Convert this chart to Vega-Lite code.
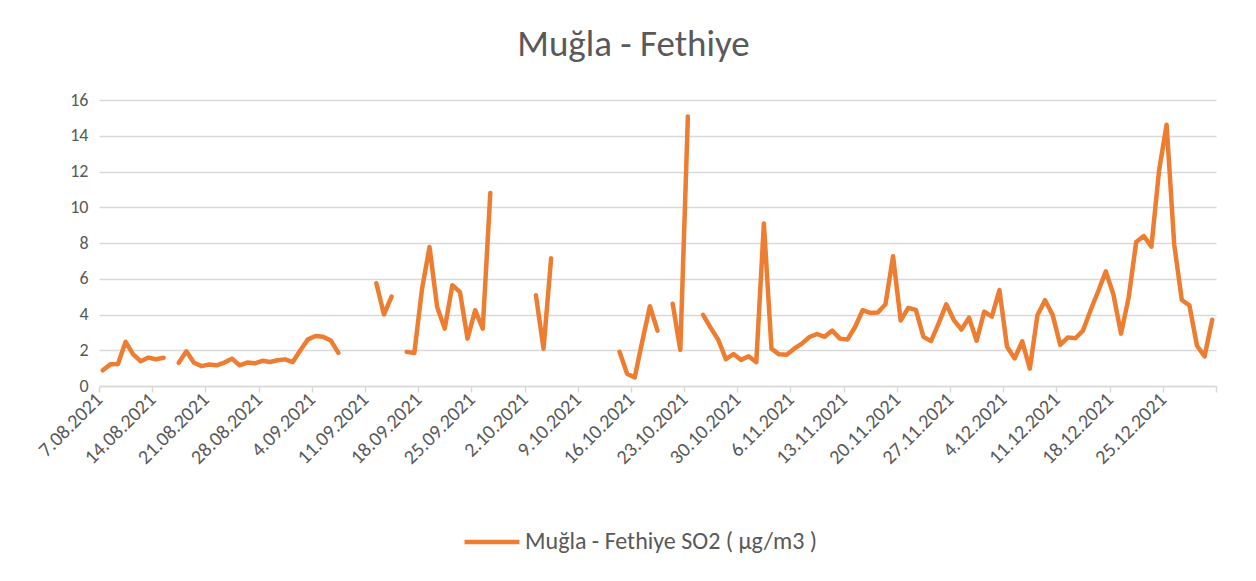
{
  "$schema": "https://vega.github.io/schema/vega-lite/v6.json",
  "width": 1117,
  "height": 286,
  "autosize": {"type": "none"},
  "padding": {"left": 99, "top": 100, "right": 40, "bottom": 195},
  "background": "#ffffff",
  "config": {
    "font": "Carlito, Lato, sans-serif",
    "view": {"stroke": null},
    "axis": {"labelColor": "#595959", "labelFont": "Carlito, Lato, sans-serif"}
  },
  "title": {
    "text": "Muğla - Fethiye",
    "fontSize": 37,
    "fontWeight": "normal",
    "color": "#595959",
    "font": "Carlito, Lato, sans-serif",
    "anchor": "middle",
    "frame": "group",
    "dx": -24,
    "offset": 27
  },
  "data": {
    "values": [
      {"d": "2021-08-07", "v": 0.88}, {"d": "2021-08-08", "v": 1.21}, {"d": "2021-08-09", "v": 1.23}, {"d": "2021-08-10", "v": 2.47},
      {"d": "2021-08-11", "v": 1.77}, {"d": "2021-08-12", "v": 1.38}, {"d": "2021-08-13", "v": 1.59}, {"d": "2021-08-14", "v": 1.5},
      {"d": "2021-08-15", "v": 1.58}, {"d": "2021-08-16", "v": null}, {"d": "2021-08-17", "v": 1.3}, {"d": "2021-08-18", "v": 1.94},
      {"d": "2021-08-19", "v": 1.3}, {"d": "2021-08-20", "v": 1.11}, {"d": "2021-08-21", "v": 1.2}, {"d": "2021-08-22", "v": 1.16},
      {"d": "2021-08-23", "v": 1.31}, {"d": "2021-08-24", "v": 1.53}, {"d": "2021-08-25", "v": 1.16}, {"d": "2021-08-26", "v": 1.31},
      {"d": "2021-08-27", "v": 1.27}, {"d": "2021-08-28", "v": 1.41}, {"d": "2021-08-29", "v": 1.34}, {"d": "2021-08-30", "v": 1.44},
      {"d": "2021-08-31", "v": 1.49}, {"d": "2021-09-01", "v": 1.34}, {"d": "2021-09-02", "v": 2.0}, {"d": "2021-09-03", "v": 2.61},
      {"d": "2021-09-04", "v": 2.8}, {"d": "2021-09-05", "v": 2.75}, {"d": "2021-09-06", "v": 2.55}, {"d": "2021-09-07", "v": 1.85},
      {"d": "2021-09-08", "v": null}, {"d": "2021-09-09", "v": null}, {"d": "2021-09-10", "v": null}, {"d": "2021-09-11", "v": null},
      {"d": "2021-09-12", "v": 5.75}, {"d": "2021-09-13", "v": 4.0}, {"d": "2021-09-14", "v": 5.0}, {"d": "2021-09-15", "v": null},
      {"d": "2021-09-16", "v": 1.91}, {"d": "2021-09-17", "v": 1.85}, {"d": "2021-09-18", "v": 5.4}, {"d": "2021-09-19", "v": 7.78},
      {"d": "2021-09-20", "v": 4.42}, {"d": "2021-09-21", "v": 3.21}, {"d": "2021-09-22", "v": 5.64}, {"d": "2021-09-23", "v": 5.26},
      {"d": "2021-09-24", "v": 2.65}, {"d": "2021-09-25", "v": 4.24}, {"d": "2021-09-26", "v": 3.21}, {"d": "2021-09-27", "v": 10.8},
      {"d": "2021-09-28", "v": null}, {"d": "2021-09-29", "v": null}, {"d": "2021-09-30", "v": null}, {"d": "2021-10-01", "v": null},
      {"d": "2021-10-02", "v": null}, {"d": "2021-10-03", "v": 5.08}, {"d": "2021-10-04", "v": 2.09}, {"d": "2021-10-05", "v": 7.14},
      {"d": "2021-10-06", "v": null}, {"d": "2021-10-07", "v": null}, {"d": "2021-10-08", "v": null}, {"d": "2021-10-09", "v": null},
      {"d": "2021-10-10", "v": null}, {"d": "2021-10-11", "v": null}, {"d": "2021-10-12", "v": null}, {"d": "2021-10-13", "v": null},
      {"d": "2021-10-14", "v": 1.91}, {"d": "2021-10-15", "v": 0.69}, {"d": "2021-10-16", "v": 0.48}, {"d": "2021-10-17", "v": 2.5},
      {"d": "2021-10-18", "v": 4.46}, {"d": "2021-10-19", "v": 3.1}, {"d": "2021-10-20", "v": null}, {"d": "2021-10-21", "v": 4.6},
      {"d": "2021-10-22", "v": 2.02}, {"d": "2021-10-23", "v": 15.08}, {"d": "2021-10-24", "v": null}, {"d": "2021-10-25", "v": 3.98},
      {"d": "2021-10-26", "v": 3.25}, {"d": "2021-10-27", "v": 2.58}, {"d": "2021-10-28", "v": 1.5}, {"d": "2021-10-29", "v": 1.79},
      {"d": "2021-10-30", "v": 1.46}, {"d": "2021-10-31", "v": 1.66}, {"d": "2021-11-01", "v": 1.33}, {"d": "2021-11-02", "v": 9.09},
      {"d": "2021-11-03", "v": 2.09}, {"d": "2021-11-04", "v": 1.77}, {"d": "2021-11-05", "v": 1.75}, {"d": "2021-11-06", "v": 2.09},
      {"d": "2021-11-07", "v": 2.37}, {"d": "2021-11-08", "v": 2.74}, {"d": "2021-11-09", "v": 2.91}, {"d": "2021-11-10", "v": 2.75},
      {"d": "2021-11-11", "v": 3.1}, {"d": "2021-11-12", "v": 2.65}, {"d": "2021-11-13", "v": 2.6}, {"d": "2021-11-14", "v": 3.3},
      {"d": "2021-11-15", "v": 4.24}, {"d": "2021-11-16", "v": 4.09}, {"d": "2021-11-17", "v": 4.11}, {"d": "2021-11-18", "v": 4.57},
      {"d": "2021-11-19", "v": 7.26}, {"d": "2021-11-20", "v": 3.66}, {"d": "2021-11-21", "v": 4.37}, {"d": "2021-11-22", "v": 4.26},
      {"d": "2021-11-23", "v": 2.75}, {"d": "2021-11-24", "v": 2.51}, {"d": "2021-11-25", "v": 3.5}, {"d": "2021-11-26", "v": 4.57},
      {"d": "2021-11-27", "v": 3.69}, {"d": "2021-11-28", "v": 3.16}, {"d": "2021-11-29", "v": 3.82}, {"d": "2021-11-30", "v": 2.53},
      {"d": "2021-12-01", "v": 4.16}, {"d": "2021-12-02", "v": 3.88}, {"d": "2021-12-03", "v": 5.37}, {"d": "2021-12-04", "v": 2.19},
      {"d": "2021-12-05", "v": 1.54}, {"d": "2021-12-06", "v": 2.5}, {"d": "2021-12-07", "v": 0.97}, {"d": "2021-12-08", "v": 3.96},
      {"d": "2021-12-09", "v": 4.8}, {"d": "2021-12-10", "v": 3.98}, {"d": "2021-12-11", "v": 2.3}, {"d": "2021-12-12", "v": 2.72},
      {"d": "2021-12-13", "v": 2.67}, {"d": "2021-12-14", "v": 3.1}, {"d": "2021-12-15", "v": 4.24}, {"d": "2021-12-16", "v": 5.3},
      {"d": "2021-12-17", "v": 6.41}, {"d": "2021-12-18", "v": 5.12}, {"d": "2021-12-19", "v": 2.93}, {"d": "2021-12-20", "v": 4.93},
      {"d": "2021-12-21", "v": 8.06}, {"d": "2021-12-22", "v": 8.39}, {"d": "2021-12-23", "v": 7.8}, {"d": "2021-12-24", "v": 12.03},
      {"d": "2021-12-25", "v": 14.62}, {"d": "2021-12-26", "v": 7.92}, {"d": "2021-12-27", "v": 4.81}, {"d": "2021-12-28", "v": 4.51},
      {"d": "2021-12-29", "v": 2.25}, {"d": "2021-12-30", "v": 1.66}, {"d": "2021-12-31", "v": 3.71}
    ]
  },
  "mark": {
    "type": "line",
    "strokeWidth": 4.5,
    "strokeCap": "round",
    "strokeJoin": "round",
    "invalid": "break-paths-show-domains"
  },
  "encoding": {
    "x": {
      "field": "d",
      "type": "temporal",
      "timeUnit": "utcyearmonthdate",
      "bandPosition": 0.5,
      "title": null,
      "scale": {
        "domain": [
          {"year": 2021, "month": 8, "date": 7, "utc": true},
          {"year": 2022, "month": 1, "date": 1, "utc": true}
        ]
      },
      "axis": {
        "values": [
          {"year": 2021, "month": 8, "date": 7, "utc": true},
          {"year": 2021, "month": 8, "date": 14, "utc": true},
          {"year": 2021, "month": 8, "date": 21, "utc": true},
          {"year": 2021, "month": 8, "date": 28, "utc": true},
          {"year": 2021, "month": 9, "date": 4, "utc": true},
          {"year": 2021, "month": 9, "date": 11, "utc": true},
          {"year": 2021, "month": 9, "date": 18, "utc": true},
          {"year": 2021, "month": 9, "date": 25, "utc": true},
          {"year": 2021, "month": 10, "date": 2, "utc": true},
          {"year": 2021, "month": 10, "date": 9, "utc": true},
          {"year": 2021, "month": 10, "date": 16, "utc": true},
          {"year": 2021, "month": 10, "date": 23, "utc": true},
          {"year": 2021, "month": 10, "date": 30, "utc": true},
          {"year": 2021, "month": 11, "date": 6, "utc": true},
          {"year": 2021, "month": 11, "date": 13, "utc": true},
          {"year": 2021, "month": 11, "date": 20, "utc": true},
          {"year": 2021, "month": 11, "date": 27, "utc": true},
          {"year": 2021, "month": 12, "date": 4, "utc": true},
          {"year": 2021, "month": 12, "date": 11, "utc": true},
          {"year": 2021, "month": 12, "date": 18, "utc": true},
          {"year": 2021, "month": 12, "date": 25, "utc": true},
          {"year": 2022, "month": 1, "date": 1, "utc": true}
        ],
        "labelExpr": "datum.value > 1640900000000 ? '' : utcFormat(datum.value, '%-d.%m.%Y')",
        "labelAngle": -45,
        "labelAlign": "right",
        "labelBaseline": "middle",
        "labelFontSize": 20,
        "labelPadding": 4,
        "labelOverlap": false,
        "labelBound": false,
        "labelFlush": false,
        "grid": false,
        "domainColor": "#d9d9d9",
        "domainWidth": 1.5,
        "tickColor": "#d9d9d9",
        "tickWidth": 1.5,
        "tickSize": 6
      }
    },
    "y": {
      "field": "v",
      "type": "quantitative",
      "title": null,
      "scale": {"domain": [0, 16], "nice": false},
      "axis": {
        "values": [0, 2, 4, 6, 8, 10, 12, 14, 16],
        "domain": false,
        "ticks": false,
        "gridColor": "#d9d9d9",
        "gridWidth": 1.5,
        "labelFontSize": 18,
        "labelPadding": 11
      }
    },
    "color": {
      "datum": "Muğla - Fethiye SO2 ( µg/m3 )",
      "scale": {"range": ["#ED7D31"]},
      "legend": {
        "title": null,
        "orient": "none",
        "legendX": 363,
        "legendY": 412,
        "symbolType": "stroke",
        "symbolSize": 3025,
        "symbolStrokeWidth": 4.5,
        "labelFontSize": 24,
        "labelLimit": 600,
        "labelColor": "#595959",
        "labelOffset": 3,
        "labelFont": "Carlito, Lato, sans-serif"
      }
    }
  }
}
